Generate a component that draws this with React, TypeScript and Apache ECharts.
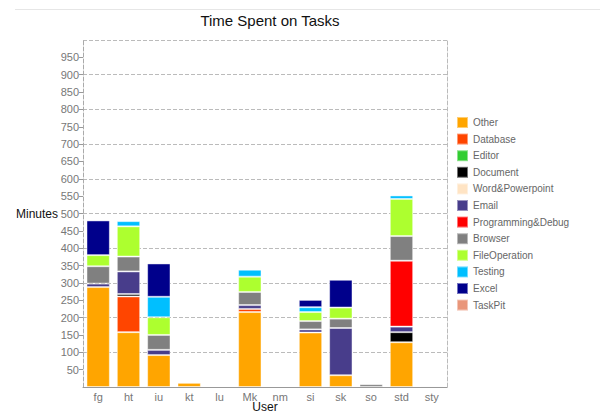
import React, { useEffect, useRef } from "react";
import * as echarts from "echarts";

// Users along the x axis
const users = ["fg", "ht", "iu", "kt", "lu", "Mk", "nm", "si", "sk", "so", "std", "sty"];

// Minutes per task category, one entry per user (stacked bottom to top)
const other = [288, 158, 92, 12, 0, 216, 0, 157, 34, 0, 129, 0];
const database = [0, 103, 0, 0, 0, 9, 0, 0, 0, 0, 0, 0];
const editor = [0, 0, 0, 0, 0, 0, 0, 0, 0, 0, 0, 0];
const documentTask = [0, 7, 0, 0, 0, 0, 0, 0, 0, 0, 29, 0];
const wordPowerpoint = [0, 0, 0, 0, 0, 0, 0, 0, 0, 0, 0, 0];
const email = [10, 65, 15, 0, 0, 11, 0, 9, 136, 0, 16, 0];
const programming = [0, 0, 0, 0, 0, 0, 0, 0, 0, 0, 190, 0];
const browser = [50, 43, 43, 0, 0, 38, 0, 24, 27, 8, 71, 3];
const fileOperation = [32, 87, 51, 0, 0, 44, 0, 26, 32, 0, 107, 0];
const testing = [0, 15, 59, 0, 0, 20, 0, 14, 0, 0, 10, 0];
const excel = [100, 0, 96, 0, 0, 0, 0, 21, 80, 0, 0, 0];
const taskPit = [0, 0, 0, 0, 0, 0, 0, 0, 0, 0, 0, 0];

const taskNames = [
  "Other",
  "Database",
  "Editor",
  "Document",
  "Word&Powerpoint",
  "Email",
  "Programming&Debug",
  "Browser",
  "FileOperation",
  "Testing",
  "Excel",
  "TaskPit",
];
const taskValues = [
  other,
  database,
  editor,
  documentTask,
  wordPowerpoint,
  email,
  programming,
  browser,
  fileOperation,
  testing,
  excel,
  taskPit,
];
const taskColors = [
  "#FFA500",
  "#FF4500",
  "#32CD32",
  "#000000",
  "#FFE4C4",
  "#483D8B",
  "#FF0000",
  "#808080",
  "#ADFF2F",
  "#00BFFF",
  "#00008B",
  "#E9967A",
];

const FONT = "'Liberation Sans', Arial, Helvetica, sans-serif";

export default function App() {
  const ref = useRef<HTMLDivElement>(null);

  useEffect(() => {
    if (!ref.current) return;
    const chart = echarts.init(ref.current, undefined, { renderer: "svg" });

    const series = taskNames.map((name, i) => ({
      name,
      type: "bar",
      stack: "total",
      barCategoryGap: "23%",
      itemStyle: {
        color: taskColors[i],
        borderColor: "rgba(255,255,255,0.45)",
        borderWidth: 1,
      },
      data: taskValues[i].map((v) => (v > 0 ? v : null)),
    }));

    chart.setOption({
      animation: false,
      textStyle: { fontFamily: FONT },
      title: {
        text: "Time Spent on Tasks",
        left: 265,
        textAlign: "center",
        top: 8,
        textStyle: { fontFamily: FONT, fontSize: 15, fontWeight: "normal", color: "#111" },
      },
      graphic: [
        {
          type: "line",
          shape: { x1: 15, y1: 9.5, x2: 600, y2: 9.5 },
          style: { stroke: "#e6e6e6", lineWidth: 1 },
        },
      ],
      legend: {
        orient: "vertical",
        left: 451,
        top: 111,
        itemWidth: 11,
        itemHeight: 11,
        itemGap: 3.6,
        icon: "rect",
        data: taskNames,
        textStyle: { fontFamily: FONT, fontSize: 10, color: "#666" },
      },
      grid: {
        left: 83,
        right: 160,
        top: 40,
        bottom: 28,
        containLabel: false,
        outerBoundsMode: "none",
      },
      xAxis: {
        type: "category",
        data: users,
        name: "User",
        nameLocation: "middle",
        nameGap: 14,
        nameMoveOverlap: false,
        nameTextStyle: { fontFamily: FONT, fontSize: 12, color: "#111" },
        axisLine: { lineStyle: { color: "#999", width: 1 } },
        axisTick: { alignWithLabel: true, length: 4, lineStyle: { color: "#999" } },
        axisLabel: { fontFamily: FONT, fontSize: 11, color: "#777", margin: 4 },
      },
      yAxis: [
        {
          type: "value",
          min: 0,
          max: 1000,
          interval: 50,
          name: "Minutes",
          nameLocation: "middle",
          nameRotate: 0,
          nameGap: 25,
          nameMoveOverlap: false,
          nameTextStyle: { fontFamily: FONT, fontSize: 12, color: "#111" },
          axisLine: { show: true, lineStyle: { color: "#aaa", type: "dashed", width: 1 } },
          axisTick: { show: true, length: 4, lineStyle: { color: "#999" } },
          axisLabel: {
            fontFamily: FONT,
            fontSize: 11,
            color: "#777",
            margin: 4,
            showMinLabel: false,
            showMaxLabel: false,
          },
          splitLine: { show: false },
        },
        {
          type: "value",
          position: "right",
          min: 0,
          max: 1000,
          interval: 100,
          axisLine: { show: true, lineStyle: { color: "#bbb", type: "dashed", width: 1 } },
          axisTick: { show: false },
          axisLabel: { show: false },
          splitLine: { show: true, lineStyle: { color: "#bbb", type: "dashed", width: 1 } },
        },
      ],
      series,
    });

    return () => chart.dispose();
  }, []);

  return (
    <div
      ref={ref}
      style={{ position: "fixed", left: 0, top: 0, width: 607, height: 415, background: "#fff" }}
    />
  );
}
